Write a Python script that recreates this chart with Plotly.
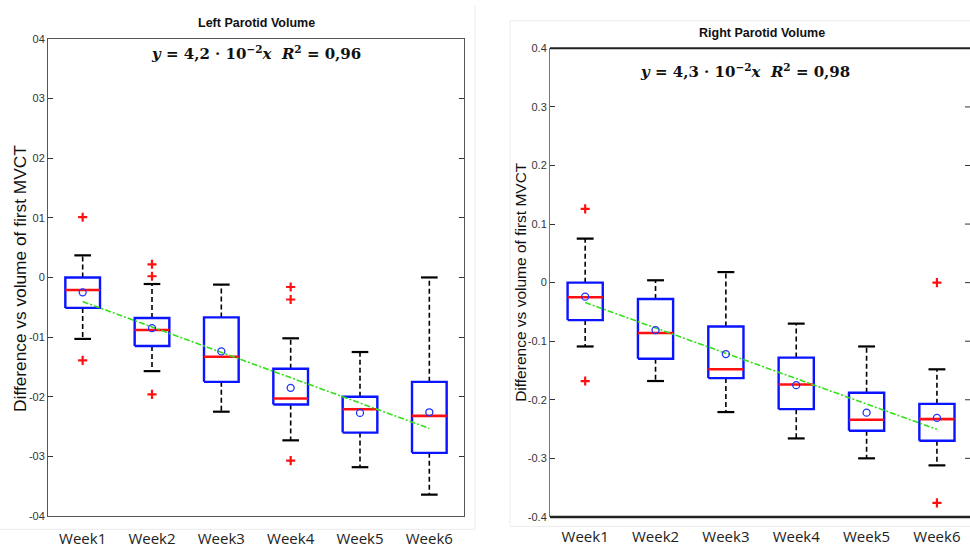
import plotly.graph_objects as go

weeks = ["Week1", "Week2", "Week3", "Week4", "Week5", "Week6"]

# Left parotid
left_q1 = [-0.051, -0.115, -0.175, -0.213, -0.260, -0.294]
left_median = [-0.021, -0.088, -0.133, -0.203, -0.221, -0.232]
left_q3 = [0.000, -0.068, -0.067, -0.153, -0.200, -0.175]
left_lower = [-0.103, -0.157, -0.225, -0.273, -0.318, -0.364]
left_upper = [0.037, -0.011, -0.012, -0.102, -0.125, 0.000]
left_mean = [-0.025, -0.085, -0.124, -0.185, -0.227, -0.226]
left_out_week = [1, 1, 2, 2, 2, 4, 4, 4]
left_out_val = [0.101, -0.139, 0.022, 0.002, -0.196, -0.016, -0.037, -0.307]
left_trend = [-0.0405, -0.253]

# Right parotid
right_q1 = [-0.064, -0.130, -0.163, -0.216, -0.253, -0.270]
right_median = [-0.025, -0.086, -0.148, -0.174, -0.234, -0.233]
right_q3 = [0.000, -0.028, -0.075, -0.128, -0.188, -0.207]
right_lower = [-0.109, -0.168, -0.221, -0.266, -0.300, -0.312]
right_upper = [0.075, 0.004, 0.018, -0.070, -0.109, -0.148]
right_mean = [-0.024, -0.081, -0.122, -0.175, -0.222, -0.231]
right_out_week = [1, 1, 6, 6]
right_out_val = [0.126, -0.168, 0.000, -0.376]
right_trend = [-0.034, -0.2505]

ytick_vals = [0.4, 0.3, 0.2, 0.1, 0.0, -0.1, -0.2, -0.3, -0.4]
left_ytick_text = ["04", "03", "02", "01", "0", "-01", "-02", "-03", "-04"]
right_ytick_text = ["0.4", "0.3", "0.2", "0.1", "0", "-0.1", "-0.2", "-0.3", "-0.4"]

y_title = "Difference vs volume of first MVCT"

BOX_HW = 0.25
CAP_HW = 0.12

fig = go.Figure()


def add_panel(q1, med, q3, lo, hi, mean, ow, ov, trend, xa, ya):
    pos = list(range(1, len(weeks) + 1))
    wx, wy = [], []
    for x, a, b, c, d in zip(pos, q3, hi, q1, lo):
        wx += [x, x, None, x, x, None]
        wy += [a, b, None, c, d, None]
    fig.add_trace(go.Scatter(x=wx, y=wy, mode="lines", xaxis=xa, yaxis=ya,
                             line=dict(color="black", width=1.6, dash="5px,3px"),
                             hoverinfo="skip", showlegend=False))
    cx, cy = [], []
    for x, b, d in zip(pos, hi, lo):
        cx += [x - CAP_HW, x + CAP_HW, None, x - CAP_HW, x + CAP_HW, None]
        cy += [b, b, None, d, d, None]
    fig.add_trace(go.Scatter(x=cx, y=cy, mode="lines", xaxis=xa, yaxis=ya,
                             line=dict(color="black", width=2.2),
                             hoverinfo="skip", showlegend=False))
    bx, by = [], []
    for x, a, c in zip(pos, q1, q3):
        bx += [x - BOX_HW, x + BOX_HW, x + BOX_HW, x - BOX_HW, x - BOX_HW, None]
        by += [a, a, c, c, a, None]
    fig.add_trace(go.Scatter(x=bx, y=by, mode="lines", xaxis=xa, yaxis=ya,
                             line=dict(color="#0a14ff", width=2.4),
                             hoverinfo="skip", showlegend=False))
    mx, my = [], []
    for x, m in zip(pos, med):
        mx += [x - BOX_HW, x + BOX_HW, None]
        my += [m, m, None]
    fig.add_trace(go.Scatter(x=mx, y=my, mode="lines", xaxis=xa, yaxis=ya,
                             line=dict(color="#ff1010", width=2.6),
                             hoverinfo="skip", showlegend=False))
    fig.add_trace(go.Scatter(x=[pos[0], pos[-1]], y=trend, mode="lines",
                             xaxis=xa, yaxis=ya,
                             line=dict(color="#33e01a", width=1.6, dash="6px,2px,2px,2px"),
                             hoverinfo="skip", showlegend=False))
    fig.add_trace(go.Scatter(x=pos, y=mean, mode="markers", xaxis=xa, yaxis=ya,
                             marker=dict(symbol="circle-open", size=7, color="#2030ff",
                                         line=dict(width=1.3, color="#2030ff")),
                             hoverinfo="skip", showlegend=False))
    fig.add_trace(go.Scatter(x=ow, y=ov, mode="markers", xaxis=xa, yaxis=ya,
                             marker=dict(symbol="cross-thin", size=6.5,
                                         line=dict(width=2.2, color="#ff1010")),
                             hoverinfo="skip", showlegend=False))


add_panel(left_q1, left_median, left_q3, left_lower, left_upper, left_mean,
          left_out_week, left_out_val, left_trend, "x", "y")
add_panel(right_q1, right_median, right_q3, right_lower, right_upper, right_mean,
          right_out_week, right_out_val, right_trend, "x2", "y2")

W, H = 970, 550


def px_x(p):
    return p / W


def px_y(p):
    return 1 - p / H


tickfont_y = dict(family="Liberation Sans, Arial", size=11, color="#333333")
tickfont_x = dict(family="Open Sans, Noto Sans, sans-serif", size=15, color="#222222")
pos_all = list(range(1, len(weeks) + 1))

shapes = [
    dict(type="line", xref="paper", yref="paper", x0=px_x(475), x1=px_x(475),
         y0=px_y(0), y1=px_y(535), line=dict(color="#ececec", width=1)),
    dict(type="line", xref="paper", yref="paper", x0=0, x1=px_x(475),
         y0=px_y(535), y1=px_y(535), line=dict(color="#ececec", width=1)),
    dict(type="line", xref="paper", yref="paper", x0=px_x(510), x1=px_x(510),
         y0=px_y(15), y1=px_y(532), line=dict(color="#ececec", width=1)),
    dict(type="line", xref="paper", yref="paper", x0=px_x(510), x1=1,
         y0=px_y(15), y1=px_y(15), line=dict(color="#ececec", width=1)),
    dict(type="line", xref="paper", yref="paper", x0=px_x(510), x1=1,
         y0=px_y(532), y1=px_y(532), line=dict(color="#ececec", width=1)),
    dict(type="line", xref="paper", yref="paper", x0=px_x(550), x1=1,
         y0=px_y(43.3), y1=px_y(43.3), line=dict(color="#222222", width=2)),
    dict(type="line", xref="paper", yref="paper", x0=px_x(550), x1=1,
         y0=px_y(522.3), y1=px_y(522.3), line=dict(color="#222222", width=2.5)),
]
for v in ytick_vals[1:-1]:
    shapes.append(dict(type="line", xref="paper", yref="y2", x0=px_x(965), x1=1,
                       y0=v, y1=v, line=dict(color="#333333", width=1)))

fig.update_layout(
    width=W, height=H,
    margin=dict(l=0, r=0, t=0, b=0),
    paper_bgcolor="white", plot_bgcolor="white",
    xaxis=dict(domain=[px_x(48), px_x(464)], range=[0.5, 6.5],
               tickvals=pos_all, ticktext=weeks, ticks="", showgrid=False,
               zeroline=False, showline=True, linecolor="#555555", linewidth=1,
               mirror=True, tickfont=tickfont_x, anchor="y", ticklabelstandoff=9),
    yaxis=dict(domain=[px_y(521.5), px_y(33.5)], range=[-0.4, 0.4],
               tickvals=ytick_vals, ticktext=left_ytick_text, ticks="inside",
               ticklen=5, tickcolor="#333333", showgrid=False, zeroline=False,
               showline=True, linecolor="#555555", linewidth=1, mirror="ticks",
               tickfont=tickfont_y, anchor="x"),
    xaxis2=dict(domain=[px_x(550), 1.0], range=[0.5, 6.47],
                tickvals=pos_all, ticktext=weeks, ticks="", showgrid=False,
                zeroline=False, showline=False,
                tickfont=tickfont_x, anchor="y2", ticklabelstandoff=9),
    yaxis2=dict(domain=[px_y(522.3), px_y(43.3)], range=[-0.4, 0.4],
                tickvals=ytick_vals, ticktext=right_ytick_text, ticks="inside",
                ticklen=5, tickcolor="#333333", showgrid=False, zeroline=False,
                showline=True, linecolor="#777777", linewidth=1, mirror=False,
                tickfont=tickfont_y, anchor="x2", ticklabelstandoff=0),
    shapes=shapes,
    annotations=[
        dict(text=y_title, xref="paper", yref="paper", x=px_x(20), y=px_y(279),
             textangle=-90, showarrow=False, xanchor="center", yanchor="middle",
             font=dict(family="Liberation Sans, Arial", size=17.3, color="#111111")),
        dict(text=y_title, xref="paper", yref="paper", x=px_x(521), y=px_y(282),
             textangle=-90, showarrow=False, xanchor="center", yanchor="middle",
             font=dict(family="Liberation Sans, Arial", size=15.5, color="#111111")),
        dict(text="<b>Left Parotid Volume</b>", xref="paper", yref="paper",
             x=px_x(256), y=px_y(17), showarrow=False, xanchor="center", yanchor="middle",
             font=dict(family="Liberation Sans, Arial", size=12.5, color="#111111")),
        dict(text="<b>Right Parotid Volume</b>", xref="paper", yref="paper",
             x=px_x(762), y=px_y(28), showarrow=False, xanchor="center", yanchor="middle",
             font=dict(family="Liberation Sans, Arial", size=12.5, color="#111111")),
        dict(text="<b><i>y</i> = 4,2 · 10<sup>−2</sup><i>x</i>  <i>R</i><sup>2</sup> = 0,96</b>",
             xref="paper", yref="paper", x=px_x(256), y=px_y(48), showarrow=False,
             xanchor="center", yanchor="middle",
             font=dict(family="DejaVu Serif, Liberation Serif, serif", size=15, color="#111111")),
        dict(text="<b><i>y</i> = 4,3 · 10<sup>−2</sup><i>x</i>  <i>R</i><sup>2</sup> = 0,98</b>",
             xref="paper", yref="paper", x=px_x(745), y=px_y(66), showarrow=False,
             xanchor="center", yanchor="middle",
             font=dict(family="DejaVu Serif, Liberation Serif, serif", size=15, color="#111111")),
    ],
)

fig.write_html("out.html")
